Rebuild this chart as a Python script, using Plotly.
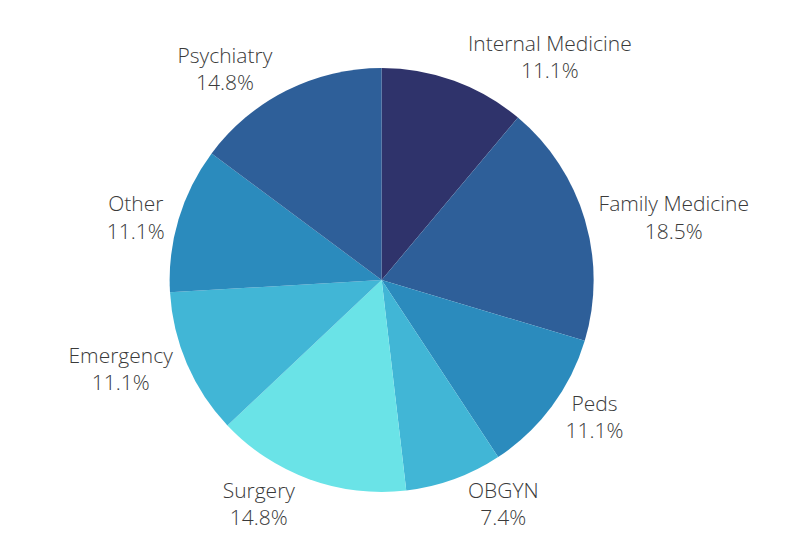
import plotly.graph_objects as go

labels = ["Internal Medicine", "Family Medicine", "Peds", "OBGYN", "Surgery", "Emergency", "Other", "Psychiatry"]
values = [3, 5, 3, 2, 4, 3, 3, 4]
colors = ["#2f336b", "#2e5f99", "#2b8bbd", "#41b6d6", "#6ae3e7", "#41b6d6", "#2b8bbd", "#2e5f99"]

fig = go.Figure(go.Pie(
    labels=labels,
    values=values,
    sort=False,
    direction="clockwise",
    rotation=0,
    texttemplate="%{label}<br>%{percent:.1%}",
    textposition="outside",
    marker=dict(colors=colors, line=dict(width=0)),
    textfont=dict(family="Open Sans", size=21, color="#3a3a3a", weight=300),
    domain=dict(x=[0.1, 1], y=[0, 1]),
    showlegend=False,
))
fig.update_layout(
    width=801, height=546,
    margin=dict(l=0, r=25, t=60, b=62),
    paper_bgcolor="white",
    font=dict(family="Open Sans"),
)
fig.write_html("out.html")
